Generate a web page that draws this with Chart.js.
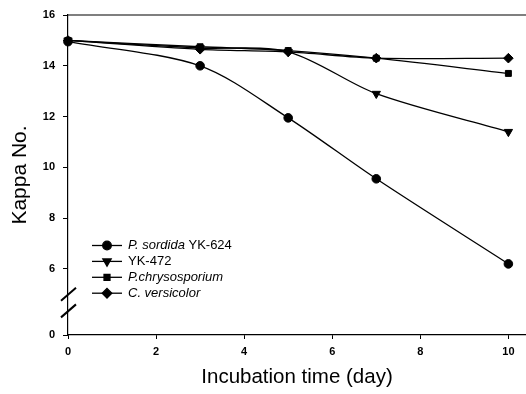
<!DOCTYPE html>
<html>
<head>
<meta charset="utf-8">
<script src="https://cdn.jsdelivr.net/npm/chart.js@4/dist/chart.umd.min.js"></script>
<style>
html,body{margin:0;padding:0;background:#fff;}
#wrap{width:526px;height:394px;}
</style>
</head>
<body>
<div id="wrap"><canvas id="c" width="526" height="394"></canvas></div>
<script>
const days = [0, 3, 5, 7, 10];
const sordida = [14.95, 14.0, 11.95, 9.55, 6.2];
const yk472 = [15.0, 14.7, 14.55, 12.9, 11.4];
const chrysosporium = [15.0, 14.75, 14.6, 14.3, 13.7];
const versicolor = [15.0, 14.65, 14.55, 14.3, 14.3];
const seriesNames = ['P. sordida YK-624', 'YK-472', 'P.chrysosporium', 'C. versicolor'];
const legendParts = [
  [['P. sordida', true], [' YK-624', false]],
  [['YK-472', false]],
  [['P.chrysosporium', true]],
  [['C. versicolor', true]]
];
const xTicks = [0, 2, 4, 6, 8, 10];
const yTicks = [6, 8, 10, 12, 14, 16];
const yBreakValue = 3.4;   // axis position drawn as "0" below the break
const yBreakLabel = '0';

const FONT = "'Liberation Sans', Arial, Helvetica, sans-serif";
const styles = [
  {pointStyle: 'circle', rot: 0, r: 4.3},
  {pointStyle: 'triangle', rot: 180, r: 4.8},
  {pointStyle: 'rect', rot: 0, r: 4.2},
  {pointStyle: 'rectRot', rot: 0, r: 4.8}
];
const allSeries = [sordida, yk472, chrysosporium, versicolor];

const datasets = allSeries.map((s, i) => ({
  label: seriesNames[i],
  data: days.map((d, j) => ({x: d, y: s[j]})),
  borderColor: '#000',
  backgroundColor: '#000',
  borderWidth: 1.3,
  pointStyle: styles[i].pointStyle,
  pointRotation: styles[i].rot,
  pointRadius: styles[i].r,
  pointBorderWidth: 1,
  tension: 0.3,
  fill: false,
  clip: false
}));

const framePlugin = {
  id: 'frame',
  afterDraw(chart) {
    const ctx = chart.ctx, a = chart.chartArea, ys = chart.scales.y;
    ctx.save();
    ctx.strokeStyle = '#000';
    ctx.lineWidth = 1.2;
    ctx.beginPath();
    ctx.moveTo(a.left, a.top);
    ctx.lineTo(a.right, a.top);
    ctx.stroke();
    // axis break marks
    ctx.lineWidth = 2;
    const yb1 = ys.getPixelForValue(5.0);
    const yb2 = ys.getPixelForValue(4.35);
    [yb1, yb2].forEach(yc => {
      ctx.beginPath();
      ctx.moveTo(a.left - 7, yc + 6.5);
      ctx.lineTo(a.left + 8, yc - 6.5);
      ctx.stroke();
    });
    // legend
    ctx.textBaseline = 'middle';
    const lx = 92, ly0 = 245.5, dy = 15.9;
    legendParts.forEach((parts, i) => {
      const y = ly0 + i * dy;
      ctx.strokeStyle = '#000';
      ctx.lineWidth = 1.3;
      ctx.beginPath();
      ctx.moveTo(lx, y);
      ctx.lineTo(lx + 30, y);
      ctx.stroke();
      ctx.fillStyle = '#000';
      Chart.helpers.drawPoint(ctx, {pointStyle: styles[i].pointStyle, rotation: styles[i].rot, radius: styles[i].r, borderWidth: 1}, lx + 15, y);
      let tx = lx + 36;
      parts.forEach(([txt, it]) => {
        ctx.font = (it ? 'italic ' : '') + '13px ' + FONT;
        ctx.fillText(txt, tx, y);
        tx += ctx.measureText(txt).width;
      });
    });
    ctx.restore();
  }
};

new Chart(document.getElementById('c'), {
  type: 'line',
  data: {datasets},
  plugins: [framePlugin],
  options: {
    responsive: false,
    animation: false,
    layout: {autoPadding: false, padding: {top: 15, right: 0, left: 0, bottom: 0}},
    plugins: {legend: {display: false}, tooltip: {enabled: false}},
    scales: {
      x: {
        type: 'linear', min: 0, max: 10.4,
        afterBuildTicks: s => { s.ticks = xTicks.map(v => ({value: v})); },
        afterFit: s => { s.height = 59; s.paddingRight = 0; s.paddingLeft = 0; },
        grid: {drawOnChartArea: false, tickLength: 4, color: '#000', tickColor: '#000'},
        border: {color: '#000', width: 1.2},
        ticks: {color: '#000', font: {family: FONT, size: 11, weight: 'bold'}, padding: 6, maxRotation: 0},
        title: {display: true, text: 'Incubation time (day)', color: '#000', font: {family: FONT, size: 20.5}, padding: {top: 14}}
      },
      y: {
        type: 'linear', min: yBreakValue, max: 16,
        afterBuildTicks: s => { s.ticks = [yBreakValue].concat(yTicks).map(v => ({value: v})); },
        afterFit: s => { s.width = 68; s.paddingTop = 0; s.paddingBottom = 0; },
        grid: {drawOnChartArea: false, tickLength: 5, color: '#000', tickColor: '#000'},
        border: {color: '#000', width: 1.2},
        ticks: {color: '#000', font: {family: FONT, size: 11, weight: 'bold'}, padding: 8,
          callback: v => v === yBreakValue ? yBreakLabel : String(v)},
        title: {display: true, text: 'Kappa No.', color: '#000', font: {family: FONT, size: 21}, padding: {top: 8, bottom: 4}}
      }
    }
  }
});
</script>
</body>
</html>
